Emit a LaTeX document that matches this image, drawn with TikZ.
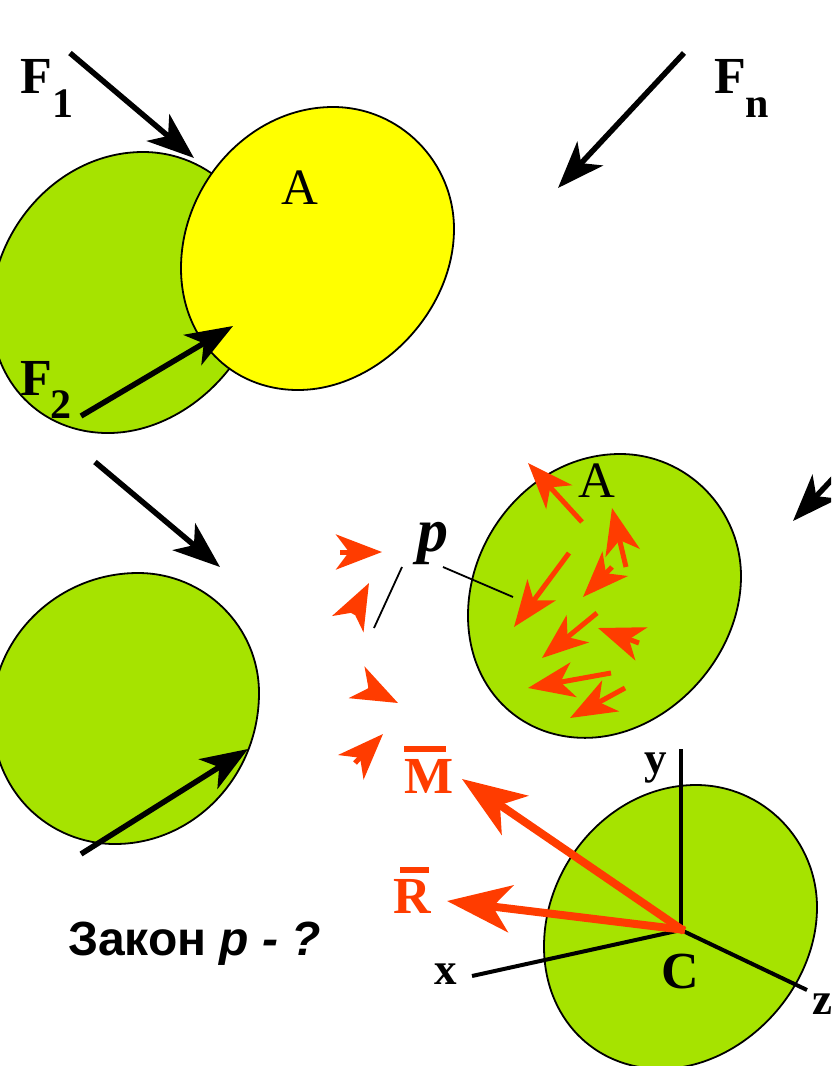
\documentclass[tikz,border=0pt]{standalone}
\usepackage{fontspec}
\setmainfont{Liberation Serif}
\newfontfamily\labelsans{Liberation Sans}
\usetikzlibrary{arrows.meta}
\definecolor{blobgreen}{HTML}{A6E300}
\definecolor{blobyellow}{HTML}{FFFF00}
\definecolor{forcered}{HTML}{FF3C00}
\tikzset{
  blobline/.style={draw=black,line width=1.8pt},
  force/.style={draw=black,line width=5.5pt,line cap=butt,-{Stealth[length=47pt,width=35pt,inset=13pt]}},
  stress/.style={draw=forcered,line width=5pt,line cap=butt,-{Stealth[length=46pt,width=35pt,inset=13pt]}},
  resultant/.style={draw=forcered,line width=8pt,line cap=butt,-{Stealth[length=64pt,width=47pt,inset=18pt]}},
  axis/.style={draw=black,line width=4pt},
  lead/.style={draw=black,line width=1.8pt},
  lbl/.style={anchor=base west,inner sep=0pt,outer sep=0pt},
  big/.style={lbl,font=\fontsize{52}{52}\selectfont\bfseries},
  subs/.style={lbl,font=\fontsize{42}{42}\selectfont\bfseries},
  plainA/.style={lbl,font=\fontsize{51}{51}\selectfont},
  small/.style={lbl,font=\fontsize{45}{45}\selectfont\bfseries},
}
\newcommand{\blobshape}[5][1]{%
  \path[blobline,fill=#2,shift={(#3,#4)},yscale=#5,xscale=#1]
    (152,0) .. controls (219,0) and (273,55) .. (273,122)
    .. controls (273,205) and (197,283) .. (117,283)
    .. controls (50,283) and (0,232) .. (0,161)
    .. controls (0,78) and (68,0) .. (152,0) -- cycle;}
\begin{document}
\begin{tikzpicture}[x=1pt,y=-1pt]
\useasboundingbox (0,0) rectangle (831,1066);
\clip (0,0) rectangle (831,1066);
% blobs
\blobshape{blobgreen}{-9}{152}{0.993}
\blobshape{blobyellow}{181}{107}{1}
\path[blobline,fill=blobgreen]
    (138,573) .. controls (205,573) and (259,627) .. (259,693)
    .. controls (259,776) and (194,844) .. (115,844)
    .. controls (50,844) and (-8,793) .. (-8,715)
    .. controls (-8,637) and (58,573) .. (138,573) -- cycle;
\blobshape{blobgreen}{468}{454}{1.003}
\blobshape{blobgreen}{544}{785}{1.003}
% black force arrows
\draw[force] (70,53) -- (194,158);
\draw[force] (684,53) -- (558,188);
\draw[force] (81,416) -- (233,326);
\draw[force] (95,462) -- (220,567);
\draw[force] (81,854) -- (248,749);
\draw[force] (855,455) -- (793,521);
% lead lines
\draw[lead] (443,567) -- (513,597);
\draw[lead] (402,567) -- (374,628);
% stress arrows on the section
\draw[stress] (582,522) -- (528,463);
\draw[stress] (626,567) -- (612,508);
\draw[stress] (612,567) -- (583,597);
\draw[stress] (569,553) -- (514,627);
\draw[stress] (597,613) -- (542,658);
\draw[stress] (639,643) -- (598,628);
\draw[stress] (611,673) -- (528,688);
\draw[stress] (625,688) -- (570,718);
% free stress arrows
\draw[stress] (340,552) -- (382,552);
\draw[stress] (353,614) -- (369,583);
\draw[stress] (368,688) -- (398,703);
\draw[stress] (355,763) -- (383,734);
% axes
\draw[axis] (681,749) -- (681,930);
\draw[axis] (472,976) -- (681,930);
\draw[axis] (681,930) -- (807,990);
% resultants
\draw[resultant] (684,931) -- (462,779);
\draw[resultant] (685,930) -- (447,901);
% labels
\node[big] (F1) at (20,93) {F};
\node[subs] (F1s) at (52,117) {1};
\node[big] (Fn) at (714,93) {F};
\node[subs] (Fns) at (745,117) {n};
\node[big] (F2) at (20,395) {F};
\node[subs] (F2s) at (50,418) {2};
\node[plainA] (A1) at (281,204) {A};
\node[plainA] (A2) at (578,497) {A};
\node[lbl,font=\fontsize{62}{62}\selectfont\bfseries\itshape] (p) at (417,551) {p};
\node[big,text=forcered] (M) at (404,793) {M};
\fill[forcered] (404,746) rectangle (446,752);
\node[big,text=forcered] (R) at (393,913) {R};
\fill[forcered] (400,867) rectangle (429,873);
\node[big] (C) at (661,988) {C};
\node[small] (x) at (434,984) {x};
\node[small] (y) at (644,773) {y};
\node[small] (z) at (812,1014) {z};
\node[lbl,font=\fontsize{48}{48}\selectfont\labelsans\bfseries] (law) at (68,955) {Закон \textit{p - ?}};
\end{tikzpicture}
\end{document}
